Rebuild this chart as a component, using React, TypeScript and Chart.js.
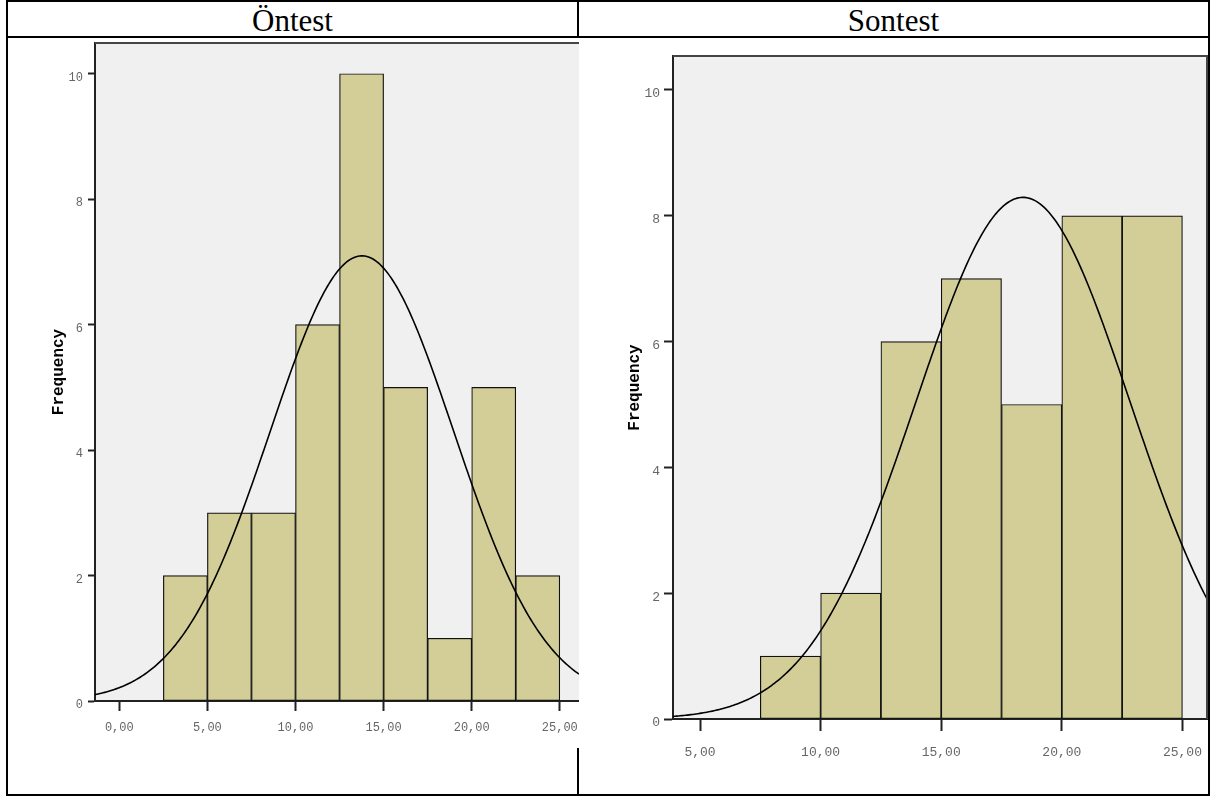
import React, { useEffect, useRef } from "react";
import { Chart, registerables } from "chart.js";

Chart.register(...registerables);

// ---------- DATA ----------
const binWidth = 2.5;

const pretestTitle = "Öntest";
const pretestBinCenters = [3.75, 6.25, 8.75, 11.25, 13.75, 16.25, 18.75, 21.25, 23.75];
const pretestCounts = [2, 3, 3, 6, 10, 5, 1, 5, 2];
const pretestMean = 13.77;
const pretestSd = 5.2;
const pretestXTicks = [0, 5, 10, 15, 20, 25];
const pretestXTickLabels = ["0,00", "5,00", "10,00", "15,00", "20,00", "25,00"];

const posttestTitle = "Sontest";
const posttestBinCenters = [8.75, 11.25, 13.75, 16.25, 18.75, 21.25, 23.75];
const posttestCounts = [1, 2, 6, 7, 5, 8, 8];
const posttestMean = 18.39;
const posttestSd = 4.45;
const posttestXTicks = [5, 10, 15, 20, 25];
const posttestXTickLabels = ["5,00", "10,00", "15,00", "20,00", "25,00"];

const yTicks = [0, 2, 4, 6, 8, 10];
const yTickLabels = ["0", "2", "4", "6", "8", "10"];
const yTitle = "Frequency";

// ---------- STYLE ----------
const MONO = "'Liberation Mono', 'Courier New', monospace";
const SERIF = "'Liberation Serif', 'Times New Roman', serif";
const BAR_FILL = "#D3CE98";
const PLOT_BG = "#F0F0F0";

type HistCfg = {
  centers: number[];
  counts: number[];
  mean: number;
  sd: number;
  xTicks: number[];
  xTickLabels: string[];
  xMin: number;
  xMax: number;
  yMax: number;
  width: number;
  height: number;
  yAxisWidth: number;
  xAxisHeight: number;
  padTop: number;
  tickFont: number;
  yTickLen: number;
  xTickLen: number;
  xLabelPad: number;
  yLabelPad: number;
  titlePad: number;
  drawRightBorder: boolean;
};

function normalCurve(counts: number[], mean: number, sd: number, xMin: number, xMax: number) {
  const n = counts.reduce((a, b) => a + b, 0);
  const pts: { x: number; y: number }[] = [];
  const steps = 300;
  for (let i = 0; i <= steps; i++) {
    const x = xMin + ((xMax - xMin) * i) / steps;
    const z = (x - mean) / sd;
    const y = (n * binWidth * Math.exp(-0.5 * z * z)) / (sd * Math.sqrt(2 * Math.PI));
    pts.push({ x, y });
  }
  return pts;
}

function Histogram(props: { cfg: HistCfg; style: React.CSSProperties }) {
  const ref = useRef<HTMLCanvasElement | null>(null);
  const { cfg } = props;
  useEffect(() => {
    if (!ref.current) return;
    const plotPlugin = {
      id: "plotbg",
      beforeDraw(chart: any) {
        const { ctx, chartArea: a } = chart;
        ctx.save();
        ctx.fillStyle = "#ffffff";
        ctx.fillRect(0, 0, chart.width, chart.height);
        ctx.fillStyle = PLOT_BG;
        ctx.fillRect(a.left, a.top, a.right - a.left, a.bottom - a.top);
        ctx.restore();
      },
      afterDraw(chart: any) {
        const { ctx, chartArea: a } = chart;
        ctx.save();
        ctx.strokeStyle = "#444";
        ctx.lineWidth = 2;
        ctx.beginPath();
        ctx.moveTo(a.left, a.top);
        ctx.lineTo(a.right, a.top);
        if (cfg.drawRightBorder) {
          ctx.moveTo(a.right - 1, a.top);
          ctx.lineTo(a.right - 1, a.bottom);
        }
        ctx.stroke();
        ctx.restore();
      },
    };
    const chart = new Chart(ref.current, {
      type: "bar",
      data: {
        datasets: [
          {
            type: "line",
            data: normalCurve(cfg.counts, cfg.mean, cfg.sd, cfg.xMin, cfg.xMax),
            borderColor: "#000",
            borderWidth: 1.6,
            pointRadius: 0,
            tension: 0,
            fill: false,
            order: 0,
          } as any,
          {
            type: "bar",
            data: cfg.centers.map((c, i) => ({ x: c, y: cfg.counts[i] })),
            backgroundColor: BAR_FILL,
            borderColor: "#111",
            borderWidth: 1.2,
            borderSkipped: false,
            barPercentage: 1,
            categoryPercentage: 1,
            order: 1,
          } as any,
        ],
      },
      options: {
        animation: false,
        responsive: false,
        maintainAspectRatio: false,
        layout: { padding: { top: cfg.padTop, left: 0, right: 0, bottom: 0 }, autoPadding: false } as any,
        plugins: { legend: { display: false }, tooltip: { enabled: false } },
        scales: {
          x: {
            type: "linear",
            min: cfg.xMin,
            max: cfg.xMax,
            offset: false,
            afterBuildTicks: (axis: any) => {
              axis.ticks = cfg.xTicks.map((v) => ({ value: v }));
            },
            afterFit: (s: any) => {
              s.height = cfg.xAxisHeight;
              s.paddingLeft = 0;
              s.paddingRight = 0;
            },
            ticks: {
              autoSkip: false,
              maxRotation: 0,
              minRotation: 0,
              padding: cfg.xLabelPad,
              color: "#666",
              font: { family: MONO, size: cfg.tickFont },
              callback: (_v: any, i: number) => cfg.xTickLabels[i],
            },
            grid: {
              offset: false,
              drawOnChartArea: false,
              drawTicks: true,
              tickLength: cfg.xTickLen,
              tickColor: "#222",
              tickWidth: 2,
            },
            border: { color: "#222", width: 2 },
          } as any,
          y: {
            type: "linear",
            min: 0,
            max: cfg.yMax,
            afterBuildTicks: (axis: any) => {
              axis.ticks = yTicks.map((v) => ({ value: v }));
            },
            afterFit: (s: any) => {
              s.width = cfg.yAxisWidth;
              s.paddingTop = 0;
              s.paddingBottom = 0;
            },
            ticks: {
              padding: cfg.yLabelPad,
              labelOffset: 4,
              color: "#666",
              font: { family: MONO, size: cfg.tickFont },
              callback: (_v: any, i: number) => yTickLabels[i],
            },
            grid: {
              drawOnChartArea: false,
              drawTicks: true,
              tickLength: cfg.yTickLen,
              tickColor: "#222",
              tickWidth: 2,
            },
            border: { color: "#222", width: 2 },
            title: {
              display: true,
              text: yTitle,
              color: "#000",
              font: { family: MONO, size: 16, weight: "bold" },
              padding: { top: cfg.titlePad, bottom: 0 },
            },
          } as any,
        },
      },
      plugins: [plotPlugin],
    });
    return () => chart.destroy();
  }, []);
  return (
    <canvas
      ref={ref}
      width={cfg.width}
      height={cfg.height}
      style={{ position: "absolute", width: cfg.width, height: cfg.height, ...props.style }}
    />
  );
}

const leftCfg: HistCfg = {
  centers: pretestBinCenters,
  counts: pretestCounts,
  mean: pretestMean,
  sd: pretestSd,
  xTicks: pretestXTicks,
  xTickLabels: pretestXTickLabels,
  xMin: -1.38,
  xMax: 26.09,
  yMax: 10.49,
  width: 571,
  height: 710,
  yAxisWidth: 87,
  xAxisHeight: 47,
  padTop: 5,
  tickFont: 12,
  yTickLen: 7,
  xTickLen: 10,
  xLabelPad: 10,
  yLabelPad: 5,
  titlePad: 41,
  drawRightBorder: false,
};

const rightCfg: HistCfg = {
  centers: posttestBinCenters,
  counts: posttestCounts,
  mean: posttestMean,
  sd: posttestSd,
  xTicks: posttestXTicks,
  xTickLabels: posttestXTickLabels,
  xMin: 3.88,
  xMax: 26.06,
  yMax: 10.54,
  width: 629,
  height: 756,
  yAxisWidth: 94,
  xAxisHeight: 75,
  padTop: 18,
  tickFont: 13,
  yTickLen: 9,
  xTickLen: 12,
  xLabelPad: 14,
  yLabelPad: 4,
  titlePad: 46,
  drawRightBorder: true,
};

const line = (l: number, t: number, w: number, h: number): React.CSSProperties => ({
  position: "absolute",
  left: l,
  top: t,
  width: w,
  height: h,
  background: "#000",
});

const headerStyle = (l: number, w: number): React.CSSProperties => ({
  position: "absolute",
  left: l,
  top: 4,
  width: w,
  height: 32,
  lineHeight: "34px",
  textAlign: "center",
  fontFamily: SERIF,
  fontSize: 31,
  color: "#000",
  whiteSpace: "nowrap",
});

export default function App() {
  return (
    <div style={{ position: "absolute", left: 0, top: 0, width: 1214, height: 796, background: "#fff", overflow: "hidden" }}>
      <div style={line(6, 0, 1204, 2)} />
      <div style={line(6, 794, 1204, 2)} />
      <div style={line(6, 0, 2, 796)} />
      <div style={line(1208, 0, 2, 796)} />
      <div style={line(6, 36, 1204, 2)} />
      <div style={line(577, 0, 2, 796)} />
      <div style={headerStyle(8, 569)}>{pretestTitle}</div>
      <div style={headerStyle(579, 629)}>{posttestTitle}</div>
      <Histogram cfg={leftCfg} style={{ left: 8, top: 38 }} />
      <Histogram cfg={rightCfg} style={{ left: 579, top: 38 }} />
    </div>
  );
}
